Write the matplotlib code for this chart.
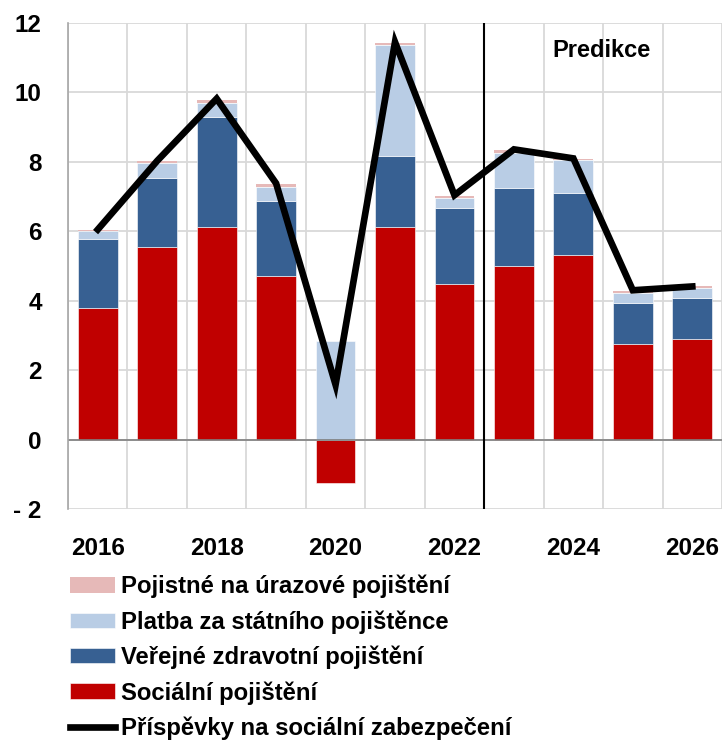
import matplotlib.pyplot as plt
import numpy as np

plt.rcParams['font.family'] = ['Liberation Sans', 'DejaVu Sans']
plt.rcParams['font.weight'] = 'bold'

years = [2016, 2017, 2018, 2019, 2020, 2021, 2022, 2023, 2024, 2025, 2026]
socialni = [3.80, 5.54, 6.12, 4.71, -1.25, 6.12, 4.48, 4.99, 5.31, 2.76, 2.89]
zdravotni = [1.99, 1.99, 3.17, 2.15, 0.0, 2.04, 2.18, 2.27, 1.78, 1.16, 1.19]
statni = [0.23, 0.44, 0.41, 0.41, 2.83, 3.22, 0.29, 1.00, 0.95, 0.31, 0.28]
urazove = [0.03, 0.06, 0.09, 0.08, 0.0, 0.05, 0.07, 0.07, 0.05, 0.06, 0.05]
prispevky = [6.05, 8.03, 9.82, 7.38, 1.58, 11.45, 7.04, 8.36, 8.10, 4.30, 4.41]

ytick_vals = [-2, 0, 2, 4, 6, 8, 10, 12]
ytick_labels = ['- 2', '0', '2', '4', '6', '8', '10', '12']

x = np.arange(len(years))
w = 0.67

fig = plt.figure(figsize=(7.26, 7.43), dpi=100)
ax = fig.add_axes([0.0937, 0.315, 0.9008, 0.654])

soc = np.array(socialni)
zdr = np.array(zdravotni)
sta = np.array(statni)
ura = np.array(urazove)
pos_base = np.where(soc > 0, soc, 0)

b_soc = ax.bar(x, soc, w, color='#C00000', edgecolor='white', lw=0.4, zorder=2,
               label='Sociální pojištění')
b_zdr = ax.bar(x, zdr, w, bottom=pos_base, color='#376092', edgecolor='white', lw=0.4,
               zorder=2, label='Veřejné zdravotní pojištění')
b_sta = ax.bar(x, sta, w, bottom=pos_base + zdr, color='#B9CDE5', edgecolor='white',
               lw=0.4, zorder=2, label='Platba za státního pojištěnce')
b_ura = ax.bar(x, ura, w, bottom=pos_base + zdr + sta, color='#E6B9B8', edgecolor='none',
               zorder=2, label='Pojistné na úrazové pojištění')
ln, = ax.plot(x, prispevky, color='black', lw=4.8, zorder=3, solid_joinstyle='miter',
              label='Příspěvky na sociální zabezpečení')

ax.axhline(0, color='#7f7f7f', lw=1.2, zorder=2.5)
ax.axvline(6.5, color='black', lw=1.5, zorder=3)
ax.text(8.47, 11.22, 'Predikce', fontsize=17, fontweight='bold', ha='center', va='center')

ax.set_xlim(-0.5, 10.5)
ax.set_ylim(-2, 12)
ax.set_xticks(x[::2])
ax.set_xticklabels([str(y) for y in years[::2]], fontweight='bold')
ax.set_xticks(np.arange(-0.5, 11, 1), minor=True)
ax.set_yticks(ytick_vals)
ax.set_yticklabels(ytick_labels, fontweight='bold')
ax.tick_params(axis='both', which='both', length=0, labelsize=17.5)
ax.tick_params(axis='y', pad=19)
ax.tick_params(axis='x', pad=20)
ax.grid(True, which='minor', axis='x', color='#d9d9d9', lw=1.3, zorder=0)
ax.grid(True, which='major', axis='y', color='#d9d9d9', lw=1.3, zorder=0)
for s in ['top', 'right', 'bottom']:
    ax.spines[s].set_visible(False)
ax.spines['left'].set_color('#a6a6a6')
ax.spines['left'].set_linewidth(1.2)

fig.legend(handles=[b_ura, b_sta, b_zdr, b_soc, ln], loc='upper left',
           bbox_to_anchor=(0.096, 0.2265), frameon=False,
           prop={'size': 17.2, 'weight': 'bold'},
           handlelength=1.88, handleheight=0.62, handletextpad=0.25,
           labelspacing=0.5, borderaxespad=0, borderpad=0)

fig.savefig('out.png', dpi=100)
